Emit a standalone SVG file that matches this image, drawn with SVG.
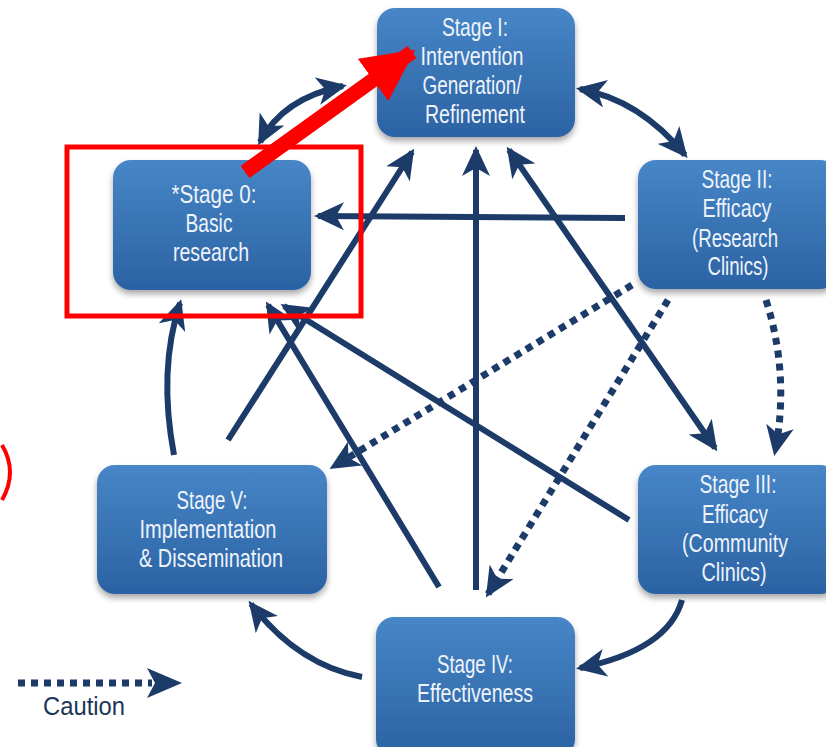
<svg xmlns="http://www.w3.org/2000/svg" width="826" height="747" viewBox="0 0 826 747">
<defs>
<linearGradient id="boxg" x1="0" y1="0" x2="0" y2="1">
<stop offset="0" stop-color="#4786c7"/>
<stop offset="1" stop-color="#2b62a3"/>
</linearGradient>
<filter id="sh" x="-10%" y="-10%" width="120%" height="130%">
<feDropShadow dx="0" dy="4" stdDeviation="3" flood-color="#000" flood-opacity="0.35"/>
</filter>
<marker id="ah" markerUnits="userSpaceOnUse" viewBox="0 0 30 28" markerWidth="30" markerHeight="28" refX="26" refY="14" orient="auto-start-reverse">
<path d="M0,0 L30,14 L0,28 L8,14 z" fill="#1c3b69"/>
</marker>
<marker id="rah" markerUnits="userSpaceOnUse" viewBox="0 0 52 52" markerWidth="52" markerHeight="52" refX="48" refY="26" orient="auto">
<path d="M0,0 L52,26 L0,52 z" fill="#ff0000"/>
</marker>
</defs>
<style>
.box{fill:url(#boxg);filter:url(#sh);}
.t{font-family:"Liberation Sans",Arial,sans-serif;font-size:25px;fill:#eef3fa;text-anchor:middle;}
.c{fill:none;stroke:#1c3b69;stroke-width:6;}
.d{fill:none;stroke:#1c3b69;stroke-width:7;stroke-dasharray:7 6;}
</style>
<rect width="826" height="747" fill="#ffffff"/>

<g id="connectors">
<path class="c" d="M260,142 Q283,98 343,86" marker-start="url(#ah)" marker-end="url(#ah)"/>
<path class="c" d="M580,89 Q640,100 685,155" marker-start="url(#ah)" marker-end="url(#ah)"/>
<path class="c" d="M625,218 L318,216" marker-end="url(#ah)"/>
<path class="c" d="M682,600 Q668,650 580,668" marker-end="url(#ah)"/>
<path class="c" d="M362,677 Q298,665 251,604" marker-end="url(#ah)"/>
<path class="c" d="M174,455 Q158,370 180,303" marker-end="url(#ah)"/>
<path class="c" d="M228,440 L412,152" marker-end="url(#ah)"/>
<path class="c" d="M439,587 L268,305" marker-end="url(#ah)"/>
<path class="c" d="M629,520 L284,306" marker-end="url(#ah)"/>
<path class="c" d="M476,590 L476,150" marker-end="url(#ah)"/>
<path class="c" d="M509,150 L715,448" marker-start="url(#ah)" marker-end="url(#ah)"/>
<path class="d" d="M766,300 Q790,375 775,452" marker-end="url(#ah)"/>
<path class="d" d="M632,285 L333,467" marker-end="url(#ah)"/>
<path class="d" d="M668,300 L488,594" marker-end="url(#ah)"/>
</g>

<g id="stage1">
<rect class="box" x="377" y="8" width="198" height="129" rx="18"/>
<text class="t" x="475" y="36" textLength="66" lengthAdjust="spacingAndGlyphs">Stage I:</text>
<text class="t" x="472" y="65" textLength="103" lengthAdjust="spacingAndGlyphs">Intervention</text>
<text class="t" x="472" y="94" textLength="99" lengthAdjust="spacingAndGlyphs">Generation/</text>
<text class="t" x="475" y="123" textLength="100" lengthAdjust="spacingAndGlyphs">Refinement</text>
</g>
<g id="stage0">
<rect class="box" x="113" y="160" width="198" height="130" rx="18"/>
<text class="t" x="214" y="203" textLength="85" lengthAdjust="spacingAndGlyphs">*Stage 0:</text>
<text class="t" x="209" y="232" textLength="47" lengthAdjust="spacingAndGlyphs">Basic</text>
<text class="t" x="211" y="261" textLength="76" lengthAdjust="spacingAndGlyphs">research</text>
</g>
<g id="stage2">
<rect class="box" x="638" y="160" width="200" height="129" rx="18"/>
<text class="t" x="737" y="188" textLength="71" lengthAdjust="spacingAndGlyphs">Stage II:</text>
<text class="t" x="737" y="217" textLength="69" lengthAdjust="spacingAndGlyphs">Efficacy</text>
<text class="t" x="735" y="247" textLength="86" lengthAdjust="spacingAndGlyphs">(Research</text>
<text class="t" x="738" y="275" textLength="61" lengthAdjust="spacingAndGlyphs">Clinics)</text>
</g>
<g id="stage3">
<rect class="box" x="638" y="465" width="200" height="129" rx="18"/>
<text class="t" x="738" y="493" textLength="77" lengthAdjust="spacingAndGlyphs">Stage III:</text>
<text class="t" x="735" y="523" textLength="66" lengthAdjust="spacingAndGlyphs">Efficacy</text>
<text class="t" x="735" y="552" textLength="106" lengthAdjust="spacingAndGlyphs">(Community</text>
<text class="t" x="734" y="581" textLength="65" lengthAdjust="spacingAndGlyphs">Clinics)</text>
</g>
<g id="stage5">
<rect class="box" x="97" y="465" width="230" height="129" rx="18"/>
<text class="t" x="212" y="509" textLength="71" lengthAdjust="spacingAndGlyphs">Stage V:</text>
<text class="t" x="208" y="538" textLength="137" lengthAdjust="spacingAndGlyphs">Implementation</text>
<text class="t" x="211" y="567" textLength="144" lengthAdjust="spacingAndGlyphs">&amp; Dissemination</text>
</g>
<g id="stage4">
<rect class="box" x="376" y="617" width="199" height="140" rx="18"/>
<text class="t" x="475" y="673" textLength="76" lengthAdjust="spacingAndGlyphs">Stage IV:</text>
<text class="t" x="475" y="702" textLength="116" lengthAdjust="spacingAndGlyphs">Effectiveness</text>
</g>

<g id="legend">
<path class="d" d="M18,683 L152,683"/>
<path d="M147,668 L182,683 L147,698 L155,683 z" fill="#1c3b69"/>
<text class="t" x="84" y="715" textLength="82" lengthAdjust="spacingAndGlyphs" style="fill:#1d3557">Caution</text>
</g>

<g id="annotations">
<rect x="67" y="147" width="294" height="169" fill="none" stroke="#ff0000" stroke-width="5"/>
<path d="M245,172 L412,52" fill="none" stroke="#ff0000" stroke-width="15" marker-end="url(#rah)"/>
<path d="M2,445 Q18,472 2,500" fill="none" stroke="#ff0000" stroke-width="4"/>
</g>
</svg>
